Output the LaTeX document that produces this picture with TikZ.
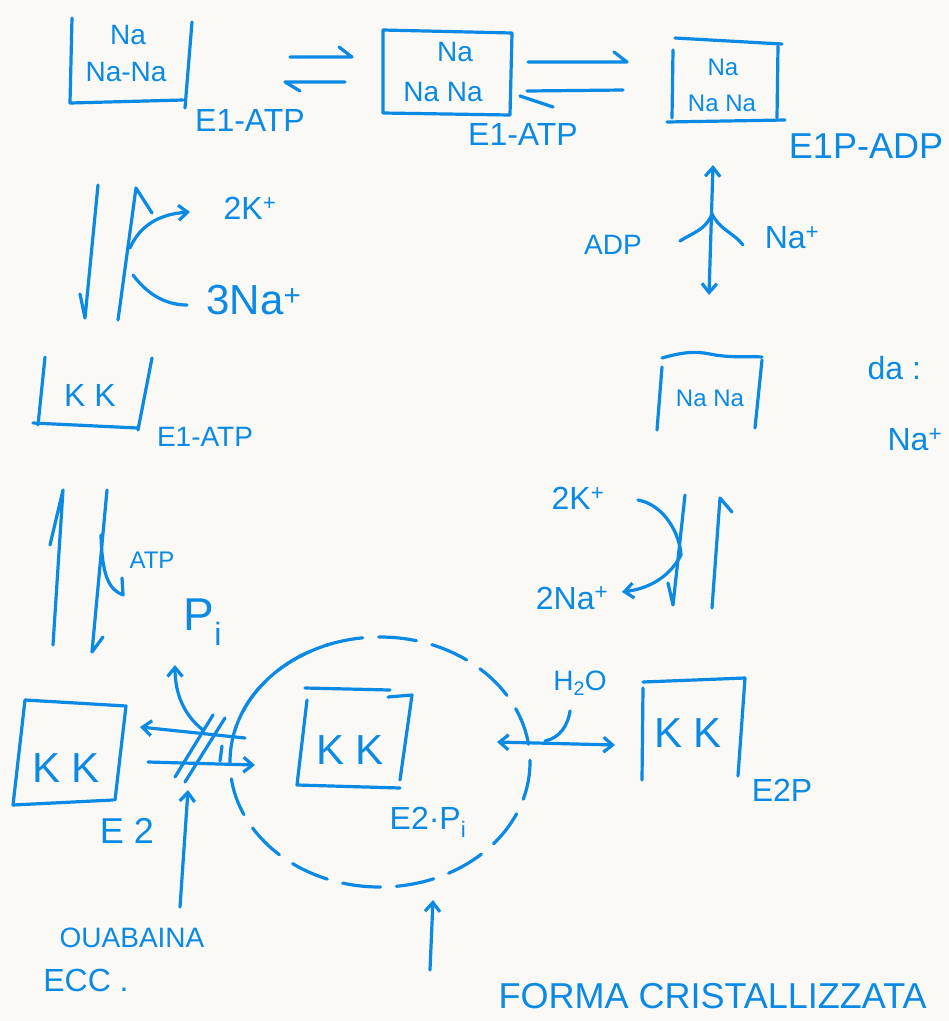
\documentclass[tikz,border=0pt]{standalone}
\usepackage{fontspec}
\setmainfont{Liberation Sans}
\usetikzlibrary{arrows.meta}
\definecolor{ink}{RGB}{10,138,228}
\definecolor{paper}{RGB}{250,249,246}
\begin{document}
\begin{tikzpicture}[x=1pt,y=-1pt,line width=3.2pt,draw=ink,line cap=round,line join=round,
  txt/.style={text=ink,inner sep=0pt},
  f24/.style={txt,font=\fontsize{24}{26}\selectfont},
  f28/.style={txt,font=\fontsize{28}{30}\selectfont},
  f32/.style={txt,font=\fontsize{32}{34}\selectfont},
  f36/.style={txt,font=\fontsize{36}{38}\selectfont},
  f42/.style={txt,font=\fontsize{42}{44}\selectfont},
  f46/.style={txt,font=\fontsize{46}{48}\selectfont},
  tip/.style={-{Straight Barb[length=9pt,width=15pt]}},
  tips/.style={{Straight Barb[length=9pt,width=15pt]}-{Straight Barb[length=9pt,width=15pt]}},
  dsh/.style={dash pattern=on 38pt off 16pt}]
\fill[paper] (0,0) rectangle (949,1021);
\useasboundingbox (0,0) rectangle (949,1021);
\clip (0,0) rectangle (949,1021);

% ---------- Box A : E1-ATP (3 Na)
\draw (72,18) -- (70,103) -- (183,100);
\draw (192,22) -- (185,108);
\node[f28] (a1) at (128,35) {Na};
\node[f28] (a2) at (126,72) {Na-Na};
\node[f32] (la) at (250,120) {E1-ATP};

% equilibrium A <-> B
\coordinate (ab1) at (290,57); \coordinate (ab2) at (352,57);
\coordinate (ab3) at (345,82); \coordinate (ab4) at (285,82);
\draw (ab1) -- (ab2) -- ++(-13,-10);
\draw (ab3) -- (ab4) -- ++(15,9);

% ---------- Box B : E1-ATP
\draw (383,30) -- (512,33) -- (510,115) -- (383,113) -- cycle;
\node[f28] (b1) at (455,52) {Na};
\node[f28] (b2) at (443,92) {Na Na};
\node[f32] (lb) at (523,134) {E1-ATP};

% equilibrium B <-> C
\coordinate (bc1) at (528,62); \coordinate (bc2) at (627,62);
\coordinate (bc3) at (623,90); \coordinate (bc4) at (527,91);
\draw (bc1) -- (bc2) -- ++(-13,-10);
\draw (bc3) -- (bc4);
\draw (520,96) -- (553,107);

% ---------- Box C : E1P-ADP
\draw (675,38) -- (782,44);
\draw (673,50) -- (672,118);
\draw (778,46) -- (777,118);
\draw (667,122) -- (785,120);
\node[f24] (c1) at (723,67) {Na};
\node[f24] (c2) at (722,103) {Na Na};
\node[f36] (lc) at (866,146) {E1P-ADP};

% C <-> D with ADP and Na+ release
\coordinate (cd1) at (713,165); \coordinate (cd2) at (709,295); \coordinate (cdm) at (712,214);
\draw[tips] (cd1) -- (cd2);
\draw (cdm) .. controls (706,230) and (692,233) .. (680,241);
\draw (cdm) .. controls (720,230) and (734,233) .. (743,245);
\node[f28] (adp) at (613,245) {ADP};
\node[f32] (nap) at (792,238) {Na\textsuperscript{+}};

% ---------- Box D : Na Na
\draw (662,358) .. controls (690,350) and (700,352) .. (715,355) .. controls (735,358) and (750,356) .. (762,357);
\draw (662,367) -- (657,430);
\draw (762,360) -- (755,428);
\node[f24] (d1) at (710,398) {Na Na};

% side note
\node[f32,anchor=west] (da) at (866,368) {da :};
\node[f32,anchor=west] (na2) at (886,440) {Na\textsuperscript{+}};

% ---------- left column: A -> E (K)
\draw (98,185) -- (85,318) -- ++(-5,-24);
\draw (118,320) -- (136,188) -- ++(16,25);
\coordinate (k2s) at (130,248); \coordinate (k2e) at (190,212);
\draw[tip] (k2s) .. controls (140,225) and (160,214) .. (k2e);
\coordinate (n3s) at (133,275); \coordinate (n3e) at (187,305);
\draw (n3s) .. controls (150,298) and (170,305) .. (n3e);
\node[f32] (k2) at (250,208) {2K\textsuperscript{+}};
\node[f42] (na3) at (254,300) {3Na\textsuperscript{+}};

% ---------- Box E : E1-ATP (K K)
\draw (45,357) -- (38,425);
\draw (33,423) -- (138,428);
\draw (152,358) -- (138,430);
\node[f32] (e1) at (90,395) {K K};
\node[f28] (le) at (205,437) {E1-ATP};

% E <-> F with ATP
\draw (53,645) -- (63,490) -- (50,545);
\draw (107,490) -- (92,652) -- (103,637);
\draw (101,535) .. controls (102,578) and (110,590) .. (123,595) -- (122,578);
\node[f24] (atp) at (152,560) {ATP};

% Pi release
\node[f46,anchor=west] (pi) at (182,622) {P\textsubscript{i}};
\coordinate (pis) at (203,730); \coordinate (pie) at (175,665);
\draw[tip] (pis) .. controls (185,716) and (175,695) .. (pie);

% ---------- Box F : E2
\draw (25,700) -- (126,706) -- (115,800);
\draw (25,700) -- (13,805) -- (113,800);
\node[f42] (f1) at (66,768) {K K};
\node[f36] (lf) at (127,831) {E 2};

% F <-> G (blocked)
\coordinate (fg1) at (245,738); \coordinate (fg2) at (140,727);
\coordinate (fg3) at (148,762); \coordinate (fg4) at (255,765);
\draw[tip] (fg1) -- (fg2);
\draw[tip] (fg3) -- (fg4);
\draw (222,746) -- (220,761);
\draw (175,777) -- (213,715);
\draw (185,782) -- (225,718);

% ouabain
\coordinate (ous) at (180,907); \coordinate (oue) at (188,790);
\draw[tip] (ous) -- (oue);
\node[f28] (oua) at (132,938) {OUABAINA};
\node[f32] (ecc) at (86,980) {ECC .};

% ---------- dashed circle around E2.Pi
\draw[dsh] (380,762) ellipse [x radius=150, y radius=125];
\draw (380,762) ++(195:150 and 125) arc[start angle=195, end angle=250, x radius=150, y radius=125];

% ---------- Box G : E2.Pi
\draw (305,688) -- (390,690);
\draw (388,697) -- (412,695) -- (400,780);
\draw (307,700) -- (297,785) -- (400,788);
\node[f42] (g1) at (350,750) {K K};
\node[f32] (lg) at (428,822) {E2·P\textsubscript{i}};

% G <-> H with H2O
\coordinate (gh1) at (497,742); \coordinate (gh2) at (615,745);
\draw[tips] (gh1) -- (gh2);
\draw (545,741) .. controls (560,738) and (568,725) .. (570,711);
\node[f28] (h2o) at (580,683) {H\textsubscript{2}O};

% ---------- Box H : E2P
\draw (642,780) -- (643,688);
\draw (643,682) -- (745,678) -- (738,776);
\node[f42] (h1) at (688,733) {K K};
\node[f32] (lh) at (782,790) {E2P};

% ---------- right column: D <-> H
\draw (685,495) -- (673,605) -- (668,583);
\draw (712,608) -- (720,498) -- (732,512);
\coordinate (k2bs) at (638,500); \coordinate (kmid) at (681,555); \coordinate (n2e) at (622,592);
\draw (k2bs) .. controls (665,505) and (680,535) .. (kmid);
\draw[tip] (kmid) .. controls (668,580) and (645,589) .. (n2e);
\node[f32] (k2b) at (578,498) {2K\textsuperscript{+}};
\node[f32] (na2b) at (572,598) {2Na\textsuperscript{+}};

% ---------- crystallised form
\coordinate (fcs) at (430,970); \coordinate (fce) at (433,900);
\draw[tip] (fcs) -- (fce);
\node[f36,anchor=west] (fc) at (497,996) {FORMA CRISTALLIZZATA};
\end{tikzpicture}
\end{document}
